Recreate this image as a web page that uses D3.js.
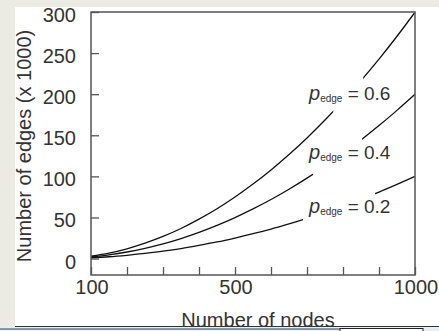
<!DOCTYPE html>
<html>
<head>
<meta charset="utf-8">
<script src="https://cdn.jsdelivr.net/npm/d3@7"></script>
<style>
  html, body { margin: 0; padding: 0; background: #ecebe3; }
  svg { display: block; font-family: "Liberation Sans", Arial, sans-serif; }
</style>
</head>
<body>
<div id="chart"></div>
<script>
// edges vs nodes for three edge probabilities
var nodes = [100, 150, 200, 250, 300, 350, 400, 450, 500, 550, 600, 650, 700, 750, 800, 850, 900, 950, 1000];
var edges06 = [3.0, 6.7, 11.9, 18.7, 26.9, 36.6, 47.9, 60.6, 74.9, 90.6, 107.8, 126.6, 146.8, 168.5, 191.8, 216.5, 242.7, 270.5, 299.7];
var edges04 = [2.0, 4.5, 8.0, 12.5, 17.9, 24.4, 31.9, 40.4, 49.9, 60.4, 71.9, 84.4, 97.9, 112.4, 127.8, 144.3, 161.8, 180.3, 199.8];
var edges02 = [1.0, 2.2, 4.0, 6.2, 9.0, 12.2, 16.0, 20.2, 25.0, 30.2, 35.9, 42.2, 48.9, 56.2, 63.9, 72.2, 80.9, 90.2, 99.9];
var pEdge = ["0.6", "0.4", "0.2"];
// where each line is broken for its label (in nodes)
var labelGaps = [[773, 856], [717, 853], [689, 889]];
var yTicks = [0, 50, 100, 150, 200, 250, 300];
var xTicks = [100, 200, 300, 400, 500, 600, 700, 800, 900, 1000];
var xLabels = [100, 500, 1000];

var width = 439;
var height = 331;
var plotL = 91, plotR = 415, plotT = 12, plotB = 275;

var svg = d3.select("#chart").append("svg")
  .attr("width", width)
  .attr("height", height);

// white page
svg.append("rect")
  .attr("x", 15).attr("y", 7)
  .attr("width", width - 15).attr("height", 320)
  .attr("fill", "white");

var x = d3.scaleLinear().domain([100, 1000]).range([plotL, plotR]);
var y = d3.scaleLinear().domain([-20, 300]).range([plotB, plotT]);

var series = [edges06, edges04, edges02];

var line = d3.line()
  .x(function(d, i) { return x(nodes[i]); })
  .y(function(d) { return y(d); })
  .curve(d3.curveMonotoneX);

var defs = svg.append("defs");
series.forEach(function(s, k) {
  var cp = defs.append("clipPath").attr("id", "gap" + k);
  cp.append("rect")
    .attr("x", plotL - 2).attr("y", 0)
    .attr("width", x(labelGaps[k][0]) - plotL + 2).attr("height", height);
  cp.append("rect")
    .attr("x", x(labelGaps[k][1])).attr("y", 0)
    .attr("width", plotR + 2 - x(labelGaps[k][1])).attr("height", height);

  svg.append("path")
    .attr("d", line(s))
    .attr("fill", "none")
    .attr("stroke", "#111")
    .attr("stroke-width", 1.3)
    .attr("clip-path", "url(#gap" + k + ")");
});

// frame
svg.append("rect")
  .attr("x", plotL).attr("y", plotT)
  .attr("width", plotR - plotL).attr("height", plotB - plotT)
  .attr("fill", "none")
  .attr("stroke", "#555")
  .attr("stroke-width", 1.5);

// y axis, ticks inside
var yAxis = svg.append("g")
  .attr("transform", "translate(" + plotL + ",0)")
  .call(d3.axisRight(y).tickValues(yTicks).tickSize(8).tickFormat(""));
yAxis.select(".domain").remove();
yAxis.selectAll("line").attr("stroke", "#555").attr("stroke-width", 1.3);

svg.selectAll(".ylab").data(yTicks).enter().append("text")
  .attr("x", 76)
  .attr("y", function(d) { return y(d) + 3; })
  .attr("dy", "0.35em")
  .attr("text-anchor", "end")
  .attr("font-size", 20)
  .attr("fill", "#333")
  .text(function(d) { return d; });

// x axis, ticks inside
var xAxis = svg.append("g")
  .attr("transform", "translate(0," + plotB + ")")
  .call(d3.axisTop(x).tickValues(xTicks).tickSize(8).tickFormat(""));
xAxis.select(".domain").remove();
xAxis.selectAll("line").attr("stroke", "#555").attr("stroke-width", 1.3);

svg.selectAll(".xlab").data(xLabels).enter().append("text")
  .attr("x", function(d) { return x(d) + 1; })
  .attr("y", 294)
  .attr("text-anchor", "middle")
  .attr("font-size", 20)
  .attr("fill", "#333")
  .text(function(d) { return d; });

// axis titles
svg.append("text")
  .attr("transform", "translate(31,146) rotate(-90)")
  .attr("text-anchor", "middle")
  .attr("font-size", 20)
  .attr("fill", "#333")
  .text("Number of edges (x 1000)");

svg.append("text")
  .attr("x", 258)
  .attr("y", 327)
  .attr("text-anchor", "middle")
  .attr("font-size", 20)
  .attr("fill", "#333")
  .text("Number of nodes");

// line labels
var labelY = [100, 159, 213];
pEdge.forEach(function(p, k) {
  var t = svg.append("text")
    .attr("x", 309)
    .attr("y", labelY[k])
    .attr("fill", "#333");
  t.append("tspan").attr("font-size", 20).attr("font-style", "italic").text("p");
  t.append("tspan").attr("font-size", 10).attr("dy", 2).text("edge");
  t.append("tspan").attr("font-size", 19).attr("dy", -2).text(" = " + p);
});

// beige margins and bottom strip
svg.append("rect").attr("x", 0).attr("y", 0).attr("width", 15).attr("height", 327).attr("fill", "#ecebe3");
svg.append("rect").attr("x", 0).attr("y", 0).attr("width", width).attr("height", 7).attr("fill", "#ecebe3");
svg.append("rect").attr("x", 0).attr("y", 326).attr("width", width).attr("height", 5).attr("fill", "#e6edf3");
svg.append("line").attr("x1", 15).attr("x2", width).attr("y1", 326.5).attr("y2", 326.5)
  .attr("stroke", "#333").attr("stroke-width", 1.2);
svg.append("line").attr("x1", 0).attr("x2", 340).attr("y1", 329).attr("y2", 329)
  .attr("stroke", "#2e4257").attr("stroke-width", 1);
svg.append("rect").attr("x", 340).attr("y", 328.5).attr("width", 83).attr("height", 4)
  .attr("fill", "white").attr("stroke", "#222").attr("stroke-width", 1);
</script>
</body>
</html>
